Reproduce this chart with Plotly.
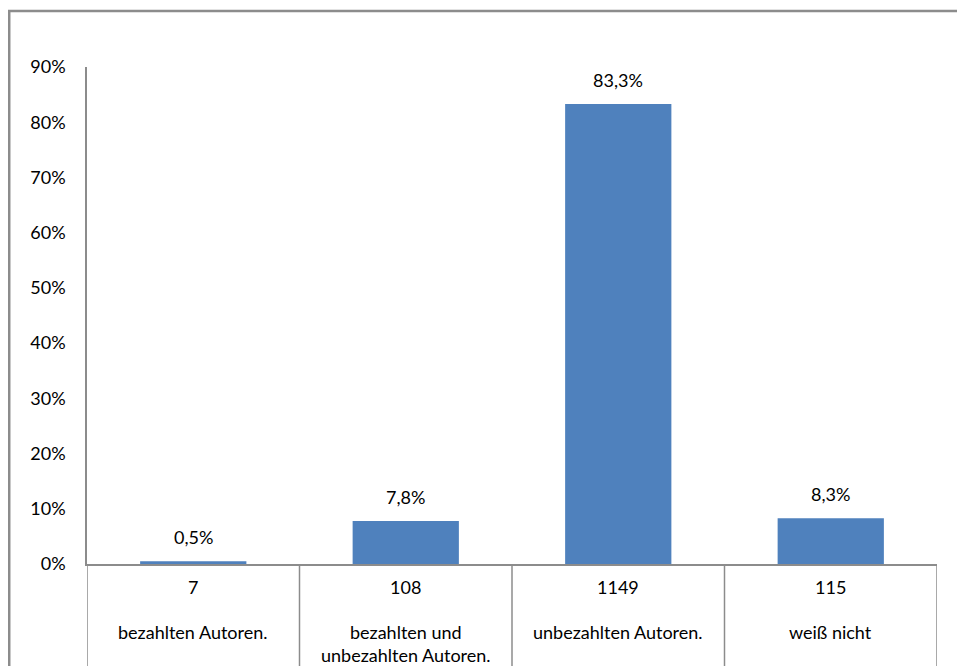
import plotly.graph_objects as go

categories = ["bezahlten Autoren.", "bezahlten und<br>unbezahlten Autoren.", "unbezahlten Autoren.", "weiß nicht"]
counts = ["7", "108", "1149", "115"]
percent = [0.5, 7.8, 83.3, 8.3]
tick_vals = [0, 10, 20, 30, 40, 50, 60, 70, 80, 90]
tick_text = ["0%", "10%", "20%", "30%", "40%", "50%", "60%", "70%", "80%", "90%"]
value_labels = ["0,5%", "7,8%", "83,3%", "8,3%"]

FONT = "Lato, 'Open Sans', sans-serif"
GRAY = "#8c8c8c"
BLUE = "#4f81bd"
FS = 18

x_idx = list(range(len(categories)))

fig = go.Figure()
fig.add_trace(go.Bar(
    x=x_idx, y=percent, width=0.5,
    marker=dict(color=BLUE, line=dict(width=0)),
    hoverinfo="skip",
))

shapes = []
for i in range(len(categories) + 1):
    shapes.append(dict(type="line", xref="x", yref="paper",
                       x0=i - 0.5, x1=i - 0.5, y0=0, y1=-0.25,
                       line=dict(color=GRAY, width=1.5)))
shapes.append(dict(type="rect", xref="paper", yref="paper",
                   x0=-0.0915, x1=1.2, y0=-0.3, y1=1.1127,
                   line=dict(color=GRAY, width=2.5), fillcolor="rgba(0,0,0,0)", layer="below"))

annotations = []
for i, (v, lab) in enumerate(zip(percent, value_labels)):
    annotations.append(dict(x=i, y=v, xref="x", yref="y", text=lab,
                            showarrow=False, yanchor="bottom", yshift=11,
                            font=dict(size=FS, color="black", family=FONT)))
for i, (c, n) in enumerate(zip(categories, counts)):
    annotations.append(dict(x=i, y=-0.046, xref="x", yref="paper", text=n,
                            showarrow=False, yanchor="middle",
                            font=dict(size=FS, color="black", family=FONT)))
    annotations.append(dict(x=i, y=-0.111, xref="x", yref="paper", text=c,
                            showarrow=False, yanchor="top",
                            font=dict(size=FS, color="black", family=FONT)))

fig.update_layout(
    width=957, height=658,
    margin=dict(l=79, r=28, t=59, b=102),
    paper_bgcolor="white", plot_bgcolor="white",
    showlegend=False,
    font=dict(family=FONT, size=FS, color="black"),
    xaxis=dict(range=[-0.5, 3.5], showticklabels=False, showgrid=False,
               zeroline=False, showline=True, linecolor=GRAY, linewidth=1.5,
               ticks="", fixedrange=True),
    yaxis=dict(range=[0, 90], tickvals=tick_vals, ticktext=tick_text,
               showgrid=False, zeroline=False, showline=True,
               linecolor=GRAY, linewidth=1.5, ticks="",
               ticklabelstandoff=16,
               tickfont=dict(size=FS, color="black", family=FONT)),
    shapes=shapes,
    annotations=annotations,
)

fig.write_html("out.html")
